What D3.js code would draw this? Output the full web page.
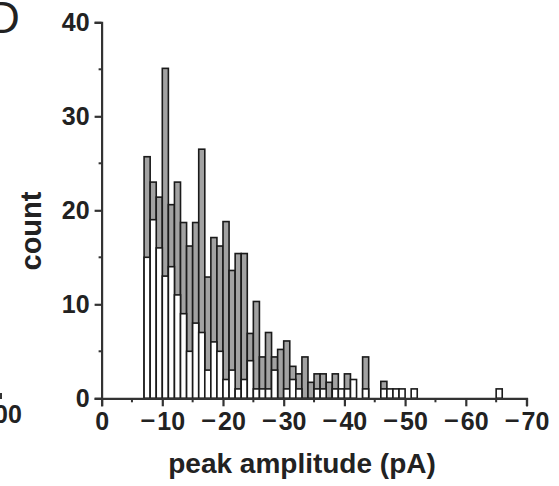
<!DOCTYPE html>
<html><head><meta charset="utf-8">
<script src="https://cdn.jsdelivr.net/npm/d3@7"></script>
<style>body{margin:0;background:#fff}svg{display:block}</style>
</head><body>
<svg id="chart" width="559" height="486"></svg>
<script>
// bin lower edges (|pA|), each bin 1 pA wide
const binStarts   = [7,8,9,10,11,12,13,14,15,16,17,18,19,20,21,22,23,24,25,26,27,28,29,30,31,32,33,34,35,36,37,38,39,40,41,43,46,47,48,49,51,65];
const grayCounts  = [25.7,23,21.4,35.1,20.6,23,18.7,16.2,18.7,26.5,12.9,17.1,16.2,18.8,13.6,15.4,15.4,6.9,10.3,4.4,7.0,4.4,5.2,6.1,3.4,2.6,4.4,1.7,2.6,2.6,1.7,2.6,0,2.6,0,4.4,1.8,0,0,0,0,0];
const whiteCounts = [15,19,16,13,14,11,9,5,8,7,3,6,5,2,3,1,2,4,1,1,1,3,0,1,2,1,0,0,1,1,0,1,1,1,2,1,1,1,1,1,1,1];
const xTicks = [0,-10,-20,-30,-40,-50,-60,-70];
const xTickLabels = ["0","\u221210","\u221220","\u221230","\u221240","\u221250","\u221260","\u221270"];
const xMinorTicks = [-5,-15,-25,-35,-45,-55,-65];
const yTicks = [0,10,20,30,40];
const yTickLabels = ["0","10","20","30","40"];
const yMinorTicks = [5,15,25,35];

const svg = d3.select("#chart");
const x = d3.scaleLinear().domain([0,-70]).range([101.6,526.5]);
const y = d3.scaleLinear().domain([0,40]).range([398.3,22.3]);
const font = "'Liberation Sans', Arial, sans-serif";
const cjk = "'Noto Sans CJK JP', 'Liberation Sans', sans-serif";
const axisColor = "#333";

const bins = binStarts.map((b,i)=>({b, g:grayCounts[i], w:whiteCounts[i]}));

// gray bars
svg.append("g").selectAll("rect").data(bins.filter(d=>d.g>0)).join("rect")
  .attr("x", d=>x(-d.b)).attr("width", d=>x(-(d.b+1))-x(-d.b))
  .attr("y", d=>y(d.g)).attr("height", d=>y(0)-y(d.g))
  .attr("fill","#a2a2a2").attr("stroke","#1a1a1a").attr("stroke-width",1.6);
// white bars
svg.append("g").selectAll("rect").data(bins.filter(d=>d.w>0)).join("rect")
  .attr("x", d=>x(-d.b)).attr("width", d=>x(-(d.b+1))-x(-d.b))
  .attr("y", d=>y(d.w)).attr("height", d=>y(0)-y(d.w))
  .attr("fill","#ffffff").attr("stroke","#1a1a1a").attr("stroke-width",1.6);

// x axis
const xAxis = d3.axisBottom(x).tickValues(xTicks).tickSize(8).tickPadding(6)
  .tickFormat((d,i)=>xTickLabels[i]);
const gx = svg.append("g").attr("transform",`translate(0,${y(0)})`).call(xAxis);
gx.select(".domain").attr("stroke",axisColor).attr("stroke-width",2.2);
gx.selectAll(".tick line").attr("stroke",axisColor).attr("stroke-width",2.2);
gx.selectAll(".tick text").attr("fill","#222").style("font-family",font)
  .style("font-size","25px").style("font-weight","bold")
  .each(function(){
    const t = d3.select(this), s = t.text();
    if (s.startsWith("\u2212")) {
      t.text(null);
      t.append("tspan").style("font-family",cjk).style("font-weight","bold").text("\u2212");
      t.append("tspan").attr("dx",2).text(s.slice(1));
    }
  });
svg.append("g").selectAll("line").data(xMinorTicks).join("line")
  .attr("x1",d=>x(d)).attr("x2",d=>x(d)).attr("y1",y(0)).attr("y2",y(0)+4)
  .attr("stroke",axisColor).attr("stroke-width",2);

// y axis
const yAxis = d3.axisLeft(y).tickValues(yTicks).tickSize(7).tickPadding(5)
  .tickFormat((d,i)=>yTickLabels[i]);
const gy = svg.append("g").attr("transform",`translate(${x(0)},0)`).call(yAxis);
gy.select(".domain").attr("stroke",axisColor).attr("stroke-width",2.2);
gy.selectAll(".tick line").attr("stroke",axisColor).attr("stroke-width",2.2);
gy.selectAll(".tick text").attr("fill","#222").style("font-family",font)
  .style("font-size","25px").style("font-weight","bold");
svg.append("g").selectAll("line").data(yMinorTicks).join("line")
  .attr("x1",x(0)-3).attr("x2",x(0)).attr("y1",d=>y(d)).attr("y2",d=>y(d))
  .attr("stroke",axisColor).attr("stroke-width",2);

// axis titles
svg.append("text").attr("x",302).attr("y",473).attr("text-anchor","middle")
  .attr("fill","#222").style("font-family",font).style("font-size","28px").style("font-weight","bold")
  .text("peak amplitude (pA)");
svg.append("text").attr("transform","translate(41,231) rotate(-90)").attr("text-anchor","middle")
  .attr("fill","#222").style("font-family",font).style("font-size","29px").style("font-weight","bold")
  .text("count");

// neighbouring-panel fragments (cut off at the left edge, as in the source figure)
svg.append("text").attr("x",-12).attr("y",33).attr("fill","#222")
  .style("font-family",font).style("font-size","44px").text("D");
svg.append("text").attr("x",-6).attr("y",423).attr("fill","#222")
  .style("font-family",font).style("font-size","25px").style("font-weight","bold").text("00");
svg.append("line").attr("x1",1).attr("x2",1).attr("y1",393).attr("y2",399)
  .attr("stroke",axisColor).attr("stroke-width",2);
</script>
</body></html>
